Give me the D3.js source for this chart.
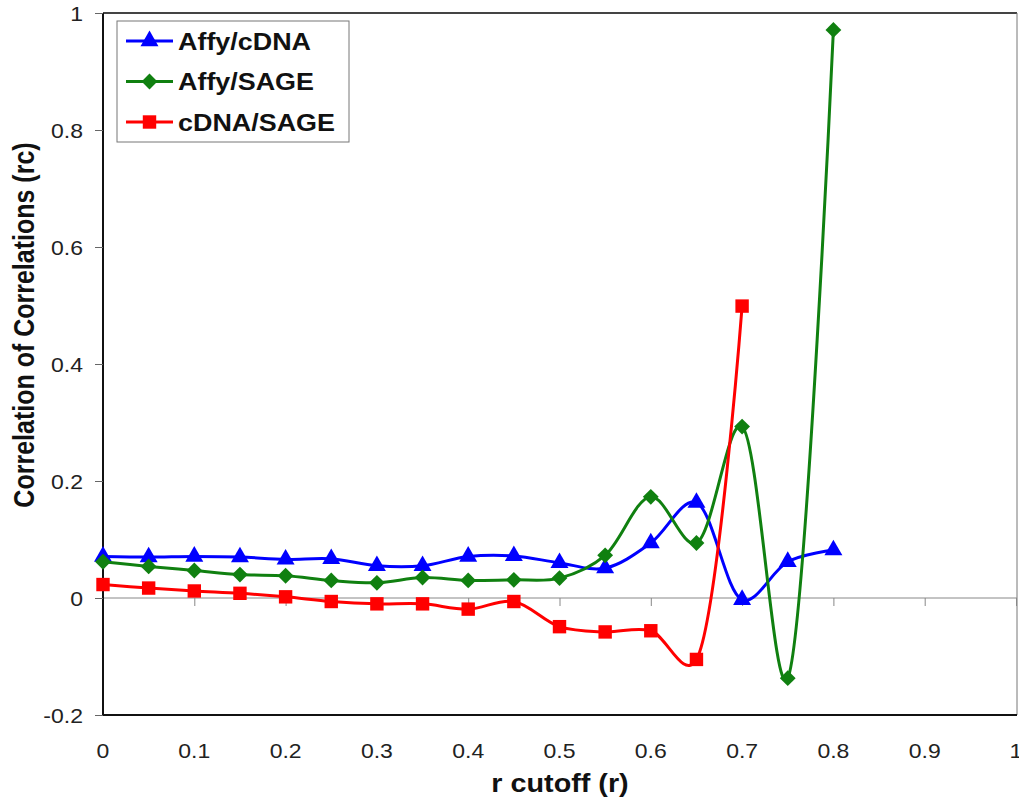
<!DOCTYPE html>
<html><head><meta charset="utf-8">
<script src="https://cdn.jsdelivr.net/npm/d3@7"></script>
<style>body{margin:0;background:#fff}svg{display:block}</style>
</head><body>
<script>
const xValues = [0,0.05,0.1,0.15,0.2,0.25,0.3,0.35,0.4,0.45,0.5,0.55,0.6,0.65,0.7,0.75,0.8];
const affyCDNA = [0.071,0.070,0.071,0.070,0.066,0.067,0.055,0.055,0.071,0.072,0.060,0.051,0.094,0.163,-0.003,0.062,0.082];
const affySAGE = [0.062,0.054,0.047,0.040,0.038,0.030,0.026,0.035,0.030,0.031,0.034,0.073,0.173,0.094,0.293,-0.137,0.971];
const cdnaSAGE = [0.023,0.017,0.012,0.008,0.002,-0.006,-0.010,-0.010,-0.019,-0.006,-0.049,-0.058,-0.056,-0.105,0.499];
const seriesNames = ["Affy/cDNA","Affy/SAGE","cDNA/SAGE"];
const xTicks = [0,0.1,0.2,0.3,0.4,0.5,0.6,0.7,0.8,0.9,1];
const yTicks = [-0.2,0,0.2,0.4,0.6,0.8,1];

const W=1019,H=799;
const svg=d3.select("body").append("svg").attr("width",W).attr("height",H);
const L=103,R=1016,T=13,B=715;
const x=d3.scaleLinear().domain([0,1]).range([L,R]);
const y=d3.scaleLinear().domain([-0.2,1]).range([B,T]);
const font="Liberation Sans, Arial, sans-serif";
const SX=1.15;
const fmt=d=>String(+d.toFixed(1));

// plot border
svg.append("line").attr("x1",L).attr("x2",R+1).attr("y1",T).attr("y2",T).attr("stroke","#444").attr("stroke-width",2);
svg.append("line").attr("x1",R+1).attr("x2",R+1).attr("y1",T).attr("y2",B).attr("stroke","#777").attr("stroke-width",1);
svg.append("line").attr("x1",L).attr("x2",R+1).attr("y1",B).attr("y2",B).attr("stroke","#111").attr("stroke-width",2);

// zero axis line with ticks
const xAxis=d3.axisBottom(x).tickValues(xTicks).tickSize(8).tickFormat("");
const gx=svg.append("g").attr("transform",`translate(0,${y(0)})`).call(xAxis);
gx.select(".domain").attr("stroke","#888").attr("stroke-width",1).attr("d",`M${L},0H${R+1}`);
gx.selectAll(".tick line").attr("stroke","#888");

// x tick labels at bottom
svg.append("g").selectAll("text").data(xTicks).join("text")
  .attr("transform",d=>`translate(${x(d)},758) scale(${SX},1)`).attr("text-anchor","middle")
  .attr("font-family",font).attr("font-size",20).attr("fill","#222")
  .text(fmt);

// y axis
const yAxis=d3.axisLeft(y).tickValues(yTicks).tickSize(8).tickFormat("");
const gy=svg.append("g").attr("transform",`translate(${L},0)`).call(yAxis);
gy.select(".domain").attr("stroke","#111").attr("stroke-width",2).attr("d",`M0,${T}V${B}`);
gy.selectAll(".tick line").attr("stroke","#666");
svg.append("g").selectAll("text").data(yTicks).join("text")
  .attr("transform",d=>`translate(83,${y(d)+7.5}) scale(${SX},1)`).attr("text-anchor","end")
  .attr("font-family",font).attr("font-size",20).attr("fill","#222")
  .text(fmt);

// axis titles
svg.append("text").attr("transform",`translate(560,792) scale(${SX},1)`).attr("text-anchor","middle")
  .attr("font-family",font).attr("font-size",25).attr("font-weight","bold").attr("fill","#111").text("r cutoff (r)");
svg.append("text").attr("transform",`translate(34,325) scale(${SX},1) rotate(-90)`).attr("text-anchor","middle")
  .attr("font-family",font).attr("font-size",25).attr("font-weight","bold").attr("fill","#111").text("Correlation of Correlations (rc)");

const series=[
  {name:seriesNames[0],vals:affyCDNA,color:"#0000ff",sym:d3.symbolTriangle,size:140,rot:0},
  {name:seriesNames[1],vals:affySAGE,color:"#108010",sym:d3.symbolSquare,size:125,rot:45},
  {name:seriesNames[2],vals:cdnaSAGE,color:"#ff0000",sym:d3.symbolSquare,size:180,rot:0},
];
const line=d3.line().x(d=>x(d[0])).y(d=>y(d[1])).curve(d3.curveCatmullRom.alpha(0.25));
svg.append("clipPath").attr("id","c").append("rect").attr("x",L).attr("y",T).attr("width",R-L+1).attr("height",B-T);
series.forEach(s=>{
  const pts=s.vals.map((v,i)=>[xValues[i],v]);
  svg.append("path").attr("d",line(pts)).attr("fill","none").attr("stroke",s.color).attr("stroke-width",3).attr("clip-path","url(#c)");
  svg.append("g").selectAll("path").data(pts).join("path")
    .attr("transform",d=>`translate(${x(d[0])},${y(d[1])}) rotate(${s.rot})`)
    .attr("d",d3.symbol(s.sym,s.size)).attr("fill",s.color);
});

// legend
const lg=svg.append("g");
lg.append("rect").attr("x",117).attr("y",21).attr("width",232).attr("height",121).attr("fill","#fff").attr("stroke","#777").attr("stroke-width",1);
series.forEach((s,i)=>{
  const cy=41+i*40.5;
  lg.append("line").attr("x1",126).attr("x2",173).attr("y1",cy).attr("y2",cy).attr("stroke",s.color).attr("stroke-width",3);
  lg.append("path").attr("transform",`translate(149.5,${cy}) rotate(${s.rot})`).attr("d",d3.symbol(s.sym,s.size)).attr("fill",s.color);
  lg.append("text").attr("transform",`translate(178,${cy+8.5}) scale(1.17,1)`).attr("font-family",font).attr("font-size",23).attr("font-weight","bold").attr("fill","#111").text(s.name);
});
</script>
</body></html>
